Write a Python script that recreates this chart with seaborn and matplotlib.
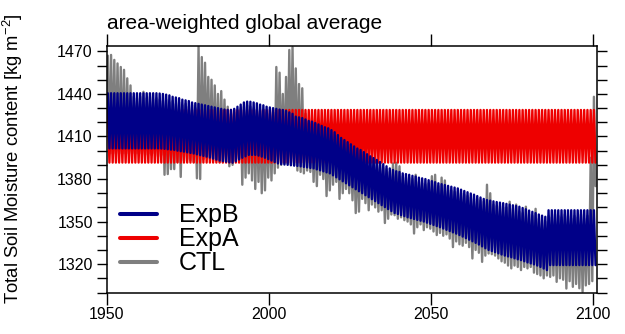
import matplotlib
matplotlib.use("Agg")
import matplotlib.pyplot as plt
import numpy as np
import pandas as pd
import seaborn as sns

# one zigzag tooth per year: annual maximum and minimum of the seasonal cycle
YEARS = list(range(1950, 2101))

EXPB_HI = [
    1440.5, 1440.5, 1440.5, 1440.5, 1440.5, 1440.5, 1440.5, 1440.5, 1440.5, 1440.5,
    1440.5, 1440.5, 1440.5, 1440.5, 1440.5, 1440.5, 1440.3, 1440.0, 1439.5, 1439.0,
    1438.0, 1437.5, 1437.0, 1436.0, 1435.5, 1435.0, 1434.0, 1433.5, 1433.0, 1432.5,
    1432.0, 1431.5, 1431.0, 1430.5, 1430.0, 1429.5, 1429.0, 1428.8, 1428.8, 1429.5,
    1431.0, 1432.5, 1434.0, 1434.6, 1434.5, 1434.0, 1433.4, 1432.5, 1432.0, 1431.0,
    1430.5, 1430.0, 1429.5, 1429.0, 1428.7, 1428.0, 1427.0, 1426.0, 1424.0, 1423.5,
    1423.0, 1422.0, 1421.0, 1420.5, 1419.5, 1418.5, 1417.5, 1416.5, 1415.8, 1414.5,
    1413.0, 1411.0, 1409.0, 1407.5, 1406.0, 1404.5, 1403.0, 1401.5, 1400.5, 1399.0,
    1397.5, 1396.0, 1394.8, 1393.5, 1392.0, 1390.5, 1389.0, 1387.5, 1386.4, 1385.5,
    1385.0, 1384.0, 1383.5, 1383.0, 1382.3, 1381.8, 1381.0, 1380.5, 1380.0, 1379.2,
    1378.5, 1377.8, 1377.0, 1376.4, 1375.8, 1375.2, 1374.6, 1374.0, 1373.4, 1372.5,
    1371.6, 1370.7, 1369.8, 1369.0, 1368.0, 1367.0, 1366.0, 1365.2, 1364.8, 1364.3,
    1363.8, 1363.4, 1363.0, 1362.5, 1362.0, 1361.5, 1361.0, 1360.5, 1359.6, 1358.7,
    1357.8, 1356.9, 1356.0, 1355.0, 1354.2, 1353.4, 1358.0, 1358.0, 1358.0, 1358.0,
    1358.0, 1358.0, 1358.0, 1358.0, 1358.0, 1358.0, 1358.0, 1358.0, 1358.0, 1358.0,
    1358.0,
]
EXPB_LO = [
    1401.6, 1401.6, 1401.6, 1401.6, 1401.6, 1401.6, 1401.6, 1401.6, 1401.6, 1401.6,
    1401.6, 1401.6, 1401.6, 1401.6, 1401.6, 1401.6, 1401.5, 1401.3, 1401.0, 1400.7,
    1400.5, 1400.0, 1399.6, 1399.3, 1398.8, 1398.4, 1398.0, 1397.4, 1396.8, 1396.3,
    1395.8, 1395.1, 1394.4, 1393.7, 1393.0, 1392.6, 1392.2, 1391.8, 1391.5, 1392.5,
    1393.8, 1395.0, 1396.0, 1397.0, 1397.0, 1397.0, 1396.5, 1395.8, 1395.0, 1394.0,
    1393.0, 1392.0, 1391.0, 1390.5, 1390.2, 1390.0, 1389.7, 1389.4, 1389.2, 1388.9,
    1388.5, 1388.2, 1387.8, 1387.5, 1386.8, 1386.1, 1385.4, 1384.7, 1384.0, 1382.6,
    1381.2, 1379.8, 1378.4, 1377.0, 1375.6, 1374.2, 1372.8, 1371.4, 1370.0, 1368.6,
    1367.2, 1365.8, 1364.4, 1363.0, 1361.6, 1360.2, 1358.8, 1357.4, 1356.0, 1355.3,
    1354.5, 1353.8, 1353.0, 1352.4, 1351.8, 1351.2, 1350.6, 1350.0, 1349.2, 1348.4,
    1347.6, 1346.8, 1346.0, 1345.1, 1344.2, 1343.3, 1342.4, 1341.5, 1340.5, 1339.4,
    1338.3, 1337.2, 1336.1, 1335.0, 1333.8, 1332.5, 1331.2, 1330.0, 1329.2, 1328.4,
    1327.6, 1326.8, 1326.0, 1325.4, 1324.8, 1324.1, 1323.4, 1322.8, 1322.0, 1321.2,
    1320.5, 1319.8, 1319.0, 1318.0, 1316.9, 1315.8, 1319.3, 1319.3, 1319.3, 1319.3,
    1319.3, 1319.3, 1319.3, 1319.3, 1319.3, 1319.3, 1319.3, 1319.3, 1319.3, 1319.3,
    1319.3,
]

# ExpA keeps the same seasonal band over the whole run
EXPA_HI = [1428.7] * len(YEARS)
EXPA_LO = [1391.6] * len(YEARS)

CTL_HI = [
    1467.0, 1467.5, 1464.0, 1461.5, 1459.0, 1457.0, 1451.0, 1446.0, 1438.0, 1437.0,
    1438.0, 1441.5, 1437.0, 1438.0, 1436.0, 1437.0, 1436.0, 1435.0, 1436.0, 1434.0,
    1435.0, 1433.0, 1434.0, 1432.0, 1433.0, 1431.0, 1432.0, 1430.0, 1473.4, 1466.0,
    1462.0, 1452.0, 1450.0, 1446.0, 1440.0, 1442.0, 1436.0, 1431.0, 1426.0, 1427.0,
    1428.0, 1430.0, 1431.0, 1432.0, 1431.0, 1430.0, 1429.0, 1428.0, 1429.0, 1427.0,
    1426.0, 1427.0, 1459.0, 1455.0, 1440.0, 1452.0, 1471.0, 1473.0, 1458.0, 1447.0,
    1444.0, 1426.0, 1419.0, 1418.0, 1417.0, 1416.0, 1415.0, 1414.0, 1413.0, 1412.0,
    1411.0, 1409.0, 1407.0, 1405.0, 1404.0, 1402.0, 1401.0, 1399.0, 1398.0, 1397.0,
    1395.0, 1394.0, 1392.0, 1391.0, 1390.0, 1388.0, 1387.0, 1385.0, 1391.0, 1391.5,
    1389.0, 1382.0, 1381.0, 1381.0, 1380.0, 1383.0, 1378.0, 1377.0, 1376.0, 1377.0,
    1382.0, 1383.0, 1375.0, 1381.0, 1379.0, 1372.0, 1372.0, 1371.0, 1371.0, 1370.0,
    1369.0, 1368.0, 1367.0, 1366.0, 1366.0, 1365.0, 1364.0, 1376.0, 1370.0, 1362.0,
    1361.0, 1361.0, 1360.0, 1360.0, 1364.0, 1359.0, 1362.0, 1357.0, 1356.0, 1360.5,
    1355.0, 1354.0, 1359.0, 1352.0, 1351.0, 1350.0, 1354.0, 1353.0, 1355.0, 1354.0,
    1353.0, 1355.0, 1354.0, 1352.0, 1354.0, 1353.0, 1355.0, 1352.0, 1354.0, 1395.0,
    1438.0,
]
CTL_LO = [
    1398.0, 1398.0, 1398.0, 1398.0, 1398.0, 1398.0, 1398.0, 1398.0, 1398.0, 1398.0,
    1398.0, 1397.0, 1398.0, 1397.0, 1398.0, 1396.0, 1397.0, 1383.0, 1383.5, 1387.0,
    1387.0, 1392.0, 1381.5, 1393.0, 1394.0, 1393.0, 1392.0, 1380.5, 1380.0, 1394.0,
    1395.0, 1394.0, 1393.0, 1393.0, 1392.0, 1392.0, 1392.0, 1389.0, 1390.0, 1393.0,
    1394.0, 1376.0, 1381.0, 1384.0, 1379.0, 1373.0, 1378.0, 1370.0, 1372.0, 1381.0,
    1379.0, 1384.0, 1388.0, 1390.0, 1391.0, 1391.0, 1390.0, 1390.0, 1386.0, 1385.0,
    1384.0, 1386.0, 1385.0, 1378.0, 1375.0, 1383.0, 1380.0, 1368.0, 1372.0, 1376.0,
    1378.0, 1366.0, 1370.0, 1373.0, 1370.0, 1365.0, 1356.0, 1357.0, 1366.0, 1363.0,
    1358.0, 1362.0, 1360.0, 1357.0, 1358.0, 1349.0, 1352.0, 1355.0, 1354.5, 1352.0,
    1353.0, 1351.0, 1350.0, 1348.0, 1341.6, 1346.0, 1348.0, 1344.0, 1346.0, 1345.0,
    1343.0, 1340.5, 1342.0, 1340.0, 1341.0, 1338.0, 1332.0, 1336.0, 1334.0, 1333.0,
    1335.0, 1332.0, 1324.0, 1330.0, 1328.0, 1321.6, 1326.0, 1327.5, 1327.0, 1326.0,
    1324.0, 1322.0, 1321.0, 1319.0, 1317.0, 1319.0, 1318.0, 1315.8, 1318.0, 1317.0,
    1318.0, 1314.0, 1313.0, 1312.0, 1310.0, 1312.0, 1311.0, 1312.0, 1307.5, 1310.0,
    1309.0, 1302.8, 1308.0, 1304.0, 1306.0, 1303.0, 1300.5, 1305.0, 1306.0, 1308.0,
    1375.0,
]

X_TICKS = [1950, 2000, 2050, 2100]
Y_LABELED = [1320, 1350, 1380, 1410, 1440, 1470]


def zigzag(name, hi, lo):
    yrs = np.array(YEARS, dtype=float)
    t = np.column_stack([yrs + 0.25, yrs + 0.75]).ravel()
    v = np.column_stack([hi, lo]).ravel()
    return pd.DataFrame({"time": t, "value": v, "run": name})


df = pd.concat([
    zigzag("CTL", CTL_HI, CTL_LO),
    zigzag("ExpA", EXPA_HI, EXPA_LO),
    zigzag("ExpB", EXPB_HI, EXPB_LO),
], ignore_index=True)

sns.set_style("ticks")
plt.rcParams["font.family"] = ["Liberation Sans", "DejaVu Sans"]
plt.rcParams["mathtext.fontset"] = "custom"
plt.rcParams["mathtext.rm"] = "Liberation Sans"
plt.rcParams["mathtext.it"] = "Liberation Sans:italic"
for key in ["text.color", "axes.labelcolor", "xtick.color", "ytick.color", "axes.edgecolor"]:
    plt.rcParams[key] = "black"

fig = plt.figure(figsize=(6.25, 3.34), dpi=100)
ax = fig.add_axes([107 / 625, 1 - 292.5 / 334, 490 / 625, 246.5 / 334])

colors = {"ExpB": "#000088", "ExpA": "#EE0000", "CTL": "#7F7F7F"}
sns.lineplot(data=df, x="time", y="value", hue="run",
             hue_order=["CTL", "ExpA", "ExpB"], palette=colors,
             estimator=None, sort=False, linewidth=1.7, ax=ax)

ax.set_xlim(1950, 2101.2)
ax.set_ylim(1300, 1473.8)
ax.set_xticks(X_TICKS)
ax.set_xticklabels([str(x) for x in X_TICKS])
yt = list(range(1300, 1471, 10))
ax.set_yticks(yt)
ax.set_yticklabels([str(v) if v in Y_LABELED else "" for v in yt])
ax.tick_params(axis="x", direction="out", length=8.6, width=1.0, top=True,
               labelsize=11.5, pad=1.5, color="black", labelcolor="black")
ax.tick_params(axis="y", direction="out", length=7.2, width=1.0, right=True,
               labelsize=11.5, pad=3, color="black", labelcolor="black")
for s in ax.spines.values():
    s.set_linewidth(1.1)
    s.set_color("black")

ax.set_xlabel("")
ax.set_ylabel("Total Soil Moisture content [kg m$^{-2}$]", fontsize=13.3, color="black")
ax.yaxis.set_label_coords(-0.168, 0.545)
ax.set_title("area-weighted global average", loc="left", fontsize=15, pad=12, color="black")

handles, labels = ax.get_legend_handles_labels()
order = [labels.index(k) for k in ["ExpB", "ExpA", "CTL"]]
leg = ax.legend([handles[i] for i in order], [labels[i] for i in order],
                loc="upper left", bbox_to_anchor=(0.0265, 0.362),
                borderaxespad=0, borderpad=0, frameon=False, fontsize=18,
                handlelength=1.5, handletextpad=0.85, labelspacing=0.0)
for ln in leg.get_lines():
    ln.set_linewidth(2.9)
for txt in leg.get_texts():
    txt.set_color("black")

fig.savefig("out.png", dpi=100)
